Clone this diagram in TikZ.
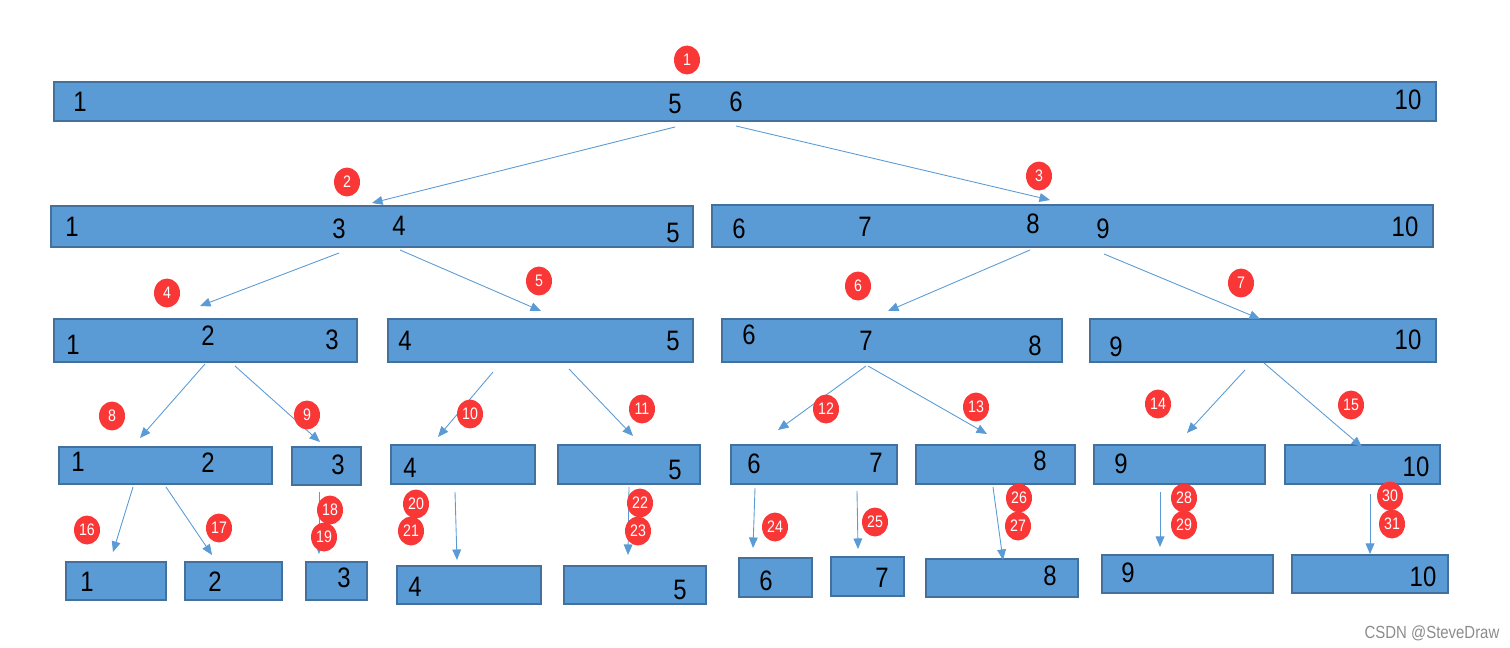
\documentclass[tikz,border=0pt]{standalone}
\usepackage{fontspec}
\setmainfont{Liberation Sans}[FakeStretch=0.85]
\usetikzlibrary{arrows.meta, fit, shapes.geometric}

\definecolor{boxblue}{RGB}{91,155,213}
\definecolor{boxedge}{RGB}{65,113,156}
\definecolor{badgered}{RGB}{250,55,55}

\tikzset{
  blk/.style={draw=boxedge, fill=boxblue, line width=0.8pt, inner sep=0pt},
  num/.style={inner sep=0pt, font=\fontsize{16}{18}\selectfont},
  badge/.style={ellipse, fill=badgered, text=white, inner sep=0pt,
    minimum width=0.52cm, minimum height=0.58cm, font=\fontsize{9.5}{10}\selectfont},
  arr/.style={draw=boxblue, line width=0.5pt, -{Triangle[length=6pt,width=5pt]}}
}

\begin{document}
\begin{tikzpicture}[x=0.02cm,y=-0.02cm]
\useasboundingbox (0,0) rectangle (1510,648);

% boxes, one row per level
\foreach \nm/\xa/\ya/\xb/\yb in {
    r0/54/82/1436/121,
    r1a/51/206/693/247, r1b/712/205/1433/247,
    r2a/54/319/357/362, r2b/388/319/693/362, r2c/722/319/1062/362, r2d/1090/319/1436/362,
    r3a/59/447/272/484, r3b/292/447/361/485, r3c/391/445/535/484, r3d/558/445/700/484,
    r3e/731/445/897/484, r3f/916/445/1075/484, r3g/1094/445/1265/484, r3h/1285/445/1440/484,
    r4a/66/562/166/600, r4b/185/562/282/600, r4c/306/562/367/600, r4d/397/566/541/604,
    r4e/564/566/706/604, r4f/739/558/812/597, r4g/831/557/904/596, r4h/926/559/1078/597,
    r4i/1102/555/1273/593, r4j/1292/555/1448/593}
  \node[blk, fit={(\xa,\ya) (\xb,\yb)}] (\nm) {};

% numbers inside the boxes
\foreach \x/\y/\t [count=\i] in {
    80/102/1, 675/104/5, 736/102/6, 1408/100/10,
    72/227/1, 339/229/3, 399/226/4, 673/233/5,
    739/229/6, 865/227/7, 1033/224/8, 1103/229/9, 1405/227/10,
    73/345/1, 208/336/2, 332/340/3, 405/341/4, 673/341/5,
    749/335/6, 866/341/7, 1035/346/8, 1116/347/9, 1408/340/10,
    78/462/1, 208/463/2, 338/465/3, 410/468/4, 675/470/5,
    754/464/6, 876/463/7, 1040/461/8, 1121/464/9, 1416/467/10,
    87/582/1, 215/582/2, 344/578/3, 415/587/4, 680/590/5,
    766/581/6, 882/578/7, 1050/576/8, 1128/573/9, 1423/577/10}
  \node[num] (n\i) at (\x,\y) {\t};

% split arrows
\foreach \xa/\ya/\xb/\yb [count=\i] in {
    675/127/372/203, 736/126/1050/200,
    339/253/200/306, 400/250/541/311, 1030/250/888/311, 1104/254/1260/319,
    205/364/140/438, 235/366/320/442, 493/372/438/437, 569/369/633/436,
    866/366/778/430, 868/366/987/434, 1245/370/1187/433, 1264/363/1362/447,
    133/487/113/552, 166/487/212/555, 319/492/319/554, 455/492/457/560,
    629/487/628/555, 755/488/753/548, 857/491/858/549, 993/487/1003/560,
    1160/492/1160/547, 1370/494/1370/554}
{
  \coordinate (s\i) at (\xa,\ya);
  \coordinate (e\i) at (\xb,\yb);
  \draw[arr] (s\i) -- (e\i);
}

% step order
\foreach \n/\x/\y in {
    1/687/60, 2/347/182, 3/1039/176,
    4/167/293, 5/539/281, 6/858/286, 7/1241/283,
    8/112/416, 9/307/415, 10/470/414, 11/642/409,
    12/826/409, 13/976/407, 14/1158/404, 15/1351/405,
    16/87/530, 17/219/528, 18/330/510, 19/324/537,
    20/416/504, 21/411/531, 22/640/503, 23/638/531,
    24/775/527, 25/875/522, 26/1019/498, 27/1018/526,
    28/1184/498, 29/1184/525, 30/1390/496, 31/1392/524}
  \node[badge] (b\n) at (\x,\y) {\n};

\node[text=black!45, inner sep=0pt, font=\fontsize{10}{12}\selectfont] (mark) at (1432,633) {CSDN @SteveDraw};
\end{tikzpicture}
\end{document}
